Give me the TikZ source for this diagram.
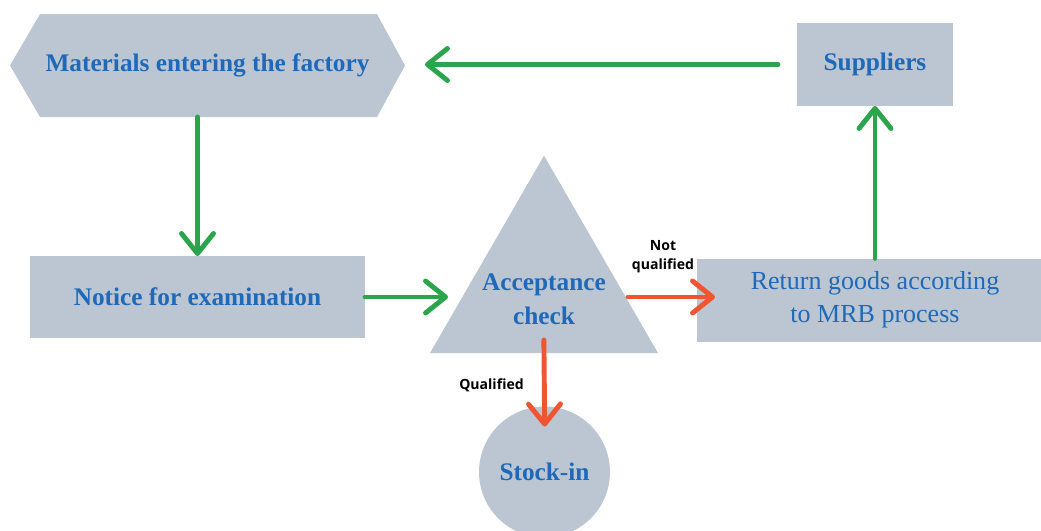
\documentclass[tikz,border=0pt]{standalone}
\usepackage{fontspec}
\setmainfont{Liberation Serif}
\setsansfont{Open Sans}
\usetikzlibrary{arrows.meta,shapes.geometric}

\definecolor{boxgray}{HTML}{BCC6D2}
\definecolor{titleblue}{HTML}{1E69B9}
\definecolor{flowgreen}{HTML}{2AA54B}
\definecolor{floworange}{HTML}{EE5530}

\begin{document}
\begin{tikzpicture}[
    box/.style={fill=boxgray, inner sep=0pt, outer sep=0pt, text=titleblue,
      font=\fontsize{18}{24}\selectfont\bfseries, align=center},
    lbl/.style={font=\sffamily\bfseries\fontsize{10}{13.5}\selectfont, align=center, inner sep=0pt},
    flow/.style={line width=3.5pt, line cap=round,
      -{Straight Barb[length=0.5cm, width=0.8cm, line cap=round, line join=round]}},
    garrow/.style={flow, draw=flowgreen},
    oarrow/.style={flow, draw=floworange}]
\useasboundingbox (0,0) rectangle (26.025,-13.275);

% the factory entrance, a flat hexagon
\fill[boxgray] (0.25,-1.6375) -- (1.0,-0.35) -- (9.425,-0.35) -- (10.125,-1.6375)
  -- (9.425,-2.925) -- (1.0,-2.925) -- cycle;
\node[box, fill=none, minimum width=9.875cm, minimum height=2.575cm] (mat)
  at (5.1875,-1.6375) {Materials entering the factory};

\node[box, minimum width=3.9cm, minimum height=2.075cm] (sup) at (21.875,-1.6125) {Suppliers};
\node[box, minimum width=8.375cm, minimum height=2.05cm] (note) at (4.9375,-7.425) {Notice for examination};
\node[box, minimum width=8.9cm, minimum height=2.075cm, font=\fontsize{18.5}{23.5}\selectfont]
  (ret) at (21.875,-7.5) {Return goods according\\to MRB process};

% check triangle, text set a bit below the centroid
\node[box, regular polygon, regular polygon sides=3, minimum size=6.58cm] (acc) at (13.6,-7.18) {};
\node[box, fill=none] (acctxt) at (13.6,-7.475) {Acceptance\\check};

\node[box, circle, minimum size=3.275cm] (stock) at (13.6125,-11.8) {Stock-in};

% connectors
\draw[garrow, shorten <=0.475cm, shorten >=0.5cm] (sup.west) -- (sup.west -| mat.east);
\draw[garrow] (note.north |- mat.south) -- (note.north);
\draw[garrow, shorten >=0.5cm] (note.east) -- (note.east -| acc.west);
\draw[oarrow, shorten <=0.2cm, shorten >=-0.45cm] (note.east -| acc.east) -- (note.east -| ret.west);
\draw[oarrow, shorten <=-0.325cm, shorten >=-0.5cm] (acc.south) -- (stock.north);
\draw[garrow] (sup.south |- ret.north) -- (sup.south);

\node[lbl] (nq) at (16.575,-6.425) {Not\\qualified};
\node[lbl] (q) at (12.2875,-9.625) {Qualified};
\end{tikzpicture}
\end{document}
